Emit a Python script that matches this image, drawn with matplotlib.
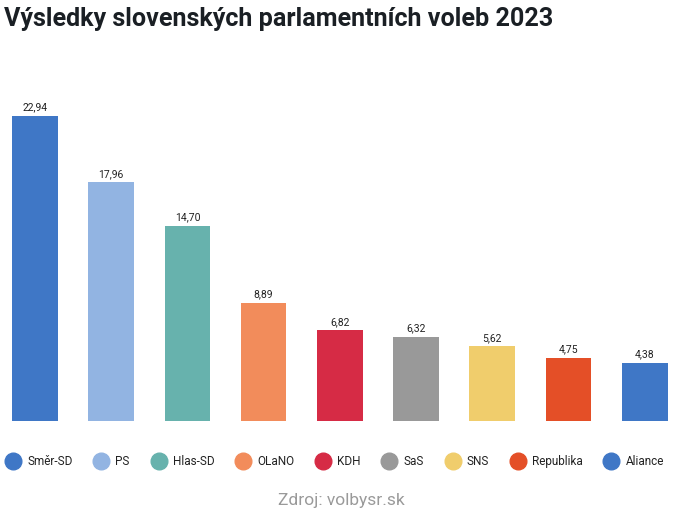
import matplotlib.pyplot as plt
from matplotlib.lines import Line2D

parties = ["Směr-SD", "PS", "Hlas-SD", "OLaNO", "KDH", "SaS", "SNS", "Republika", "Aliance"]
votes = [22.94, 17.96, 14.70, 8.89, 6.82, 6.32, 5.62, 4.75, 4.38]
colors = ["#3f77c6", "#92b4e2", "#67b2ad", "#f28c5b", "#d62b45", "#999999", "#f0cd6c", "#e44f27", "#3f77c6"]

plt.rcParams['font.family'] = ['Roboto', 'DejaVu Sans']

fig = plt.figure(figsize=(6.82, 5.26), dpi=100)
ax = fig.add_axes([0, 0.1996, 1, 0.6863])

x = list(range(len(parties)))
bars = ax.bar(x, votes, width=0.6, color=colors)
for b, v in zip(bars, votes):
    ax.text(b.get_x() + b.get_width() / 2, v + 0.25, f"{v:.2f}".replace(".", ","),
            ha="center", va="bottom", fontsize=7.5, color="#222222")

ax.set_xlim(-0.459, 8.49)
ax.set_ylim(0, 27.15)
ax.axis("off")

# title and source
fig.text(0.006, 0.963, "Výsledky slovenských parlamentních voleb 2023",
         fontsize=18.1, fontweight="bold", color="#1a1f24", va="center", ha="left")
fig.text(0.5, 0.048, "Zdroj: volbysr.sk", fontsize=12.5, color="#9a9a9a", ha="center", va="center")

handles = [Line2D([], [], marker="o", linestyle="", markersize=12, color=c) for c in colors]
fig.legend(handles, parties, loc="center", bbox_to_anchor=(0.492, 0.123), ncol=len(parties),
           frameon=False, fontsize=8.5, handletextpad=0.7, columnspacing=1.93, handlelength=1.0,
           labelcolor="#222222")

fig.savefig("out.png", dpi=100)
